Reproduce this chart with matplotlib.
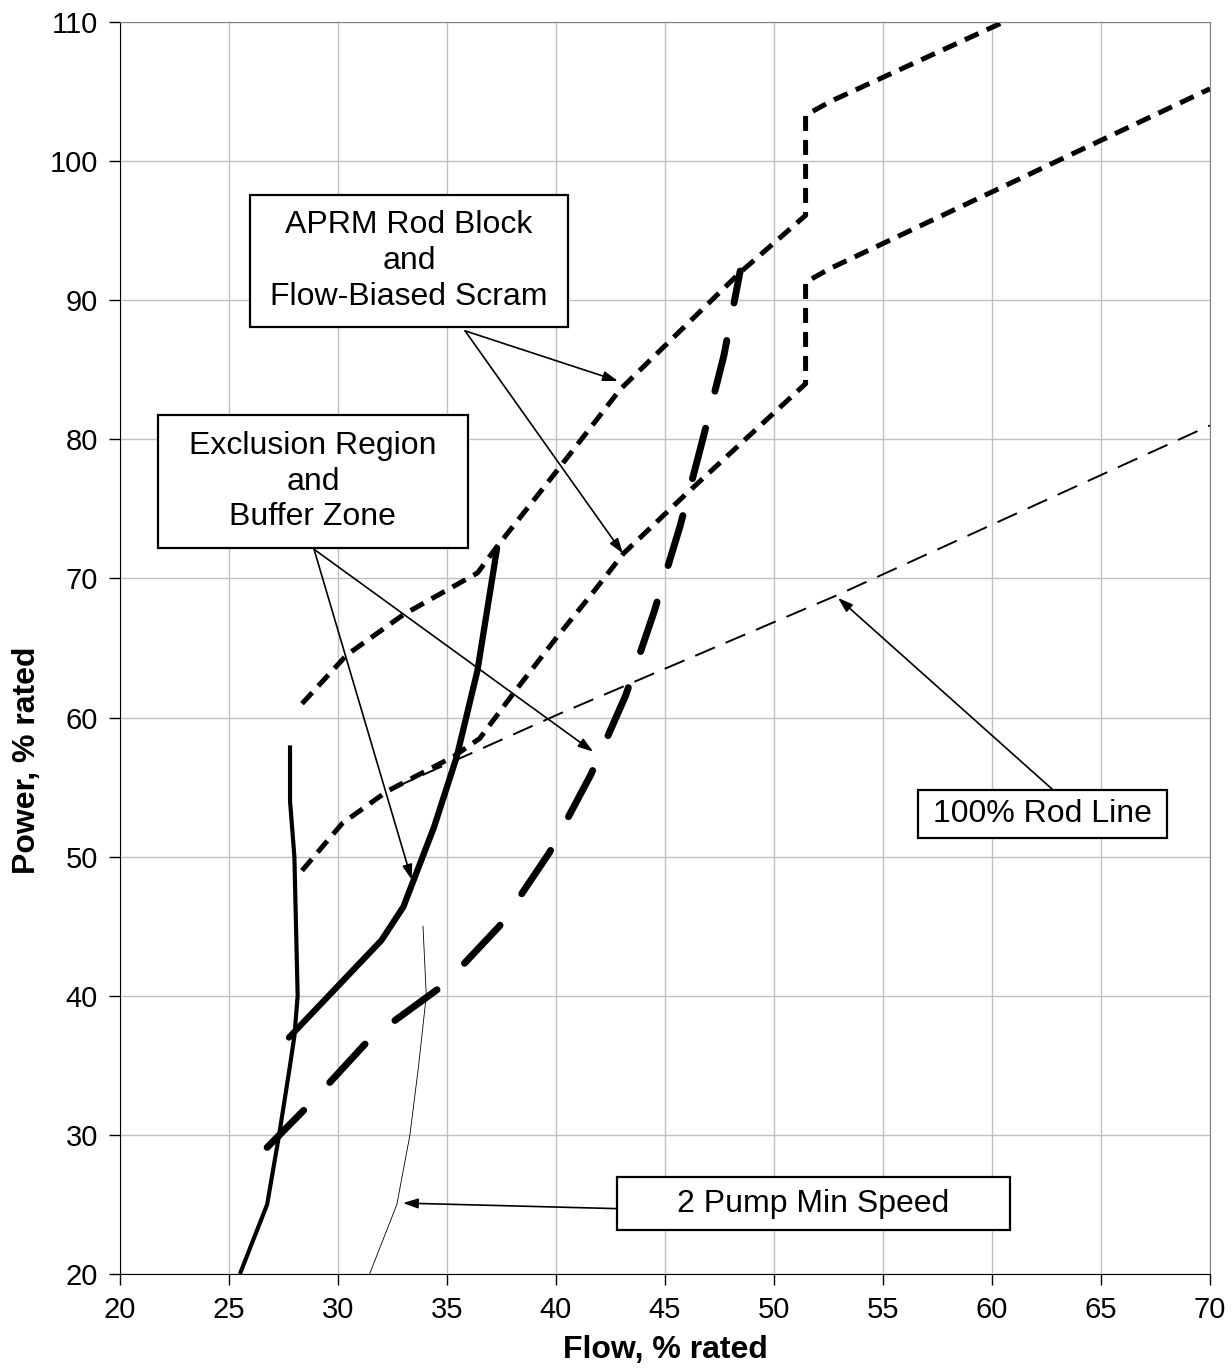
import matplotlib
matplotlib.use("Agg")
import matplotlib.pyplot as plt
from matplotlib.patches import Rectangle

plt.rcParams['font.family'] = ['Liberation Sans', 'DejaVu Sans']

# Exclusion region boundary (left, nearly vertical part)
excl_left_x = [25.5, 26.75, 27.3, 27.8, 28.0, 28.15, 28.0, 27.8, 27.8]
excl_left_y = [20, 25, 30, 35, 37.1, 40, 50, 54, 58]

# Exclusion region boundary (upper part)
excl_x = [27.75, 32.0, 33.0, 34.4, 35.45, 36.4, 37.3]
excl_y = [37.0, 44.0, 46.4, 52.1, 57.2, 63.4, 72.2]

# Buffer zone boundary
buffer_x = [26.75, 28.7, 31.4, 32.5, 34.6, 35.6, 37.4, 38.2, 39.7, 41.6, 43.2, 44.5, 45.7, 46.7, 47.7, 48.45]
buffer_y = [29.1, 32.2, 36.8, 38.1, 40.5, 42.0, 45.0, 46.8, 50.3, 55.9, 61.6, 67.6, 73.8, 79.8, 86.0, 92.1]

# 2 pump minimum speed
pump_x = [31.45, 32.7, 33.3, 33.7, 34.05, 33.9]
pump_y = [20, 25, 30, 35, 40, 45]

# 100% rod line
rod_x = [32.5, 40.2, 52.9, 70]
rod_y = [54.9, 60.3, 68.8, 81.0]

# APRM rod block (upper)
aprm_hi_x = [28.35, 30.4, 33.0, 36.4, 37.3, 40.2, 42.95, 45.7, 48.45, 51.45, 51.45, 52.6, 70]
aprm_hi_y = [61.0, 64.5, 67.4, 70.4, 72.3, 78.05, 83.6, 87.8, 92.0, 96.1, 103.3, 104.3, 116.8]

# Flow-biased scram (lower)
aprm_lo_x = [28.35, 30.2, 32.25, 35.3, 36.5, 38.05, 40.05, 41.55, 43.1, 45.85, 51.45, 51.45, 52.6, 70]
aprm_lo_y = [49.0, 52.4, 54.7, 57.2, 58.5, 61.75, 65.8, 68.7, 71.8, 75.9, 84.0, 91.3, 92.3, 105.2]

fig = plt.figure(figsize=(12.32, 13.68), dpi=100)
ax = fig.add_axes([0.0974, 0.0687, 0.8847, 0.9152])

ax.plot(excl_left_x, excl_left_y, color='black', lw=3.0, solid_capstyle='butt')
ax.plot(excl_x, excl_y, color='black', lw=4.5, solid_capstyle='round')
ax.plot(buffer_x, buffer_y, color='black', lw=5.0, dashes=(7.5, 5.5), dash_capstyle='round')
ax.plot(pump_x, pump_y, color='black', lw=0.6)
ax.plot(rod_x, rod_y, color='black', lw=1.4, dashes=(11, 6))
ax.plot(aprm_hi_x, aprm_hi_y, color='black', lw=3.6, dashes=(3.0, 1.8))
ax.plot(aprm_lo_x, aprm_lo_y, color='black', lw=3.6, dashes=(3.0, 1.8))

# annotation boxes
def box(x0, x1, y0, y1, text):
    ax.add_patch(Rectangle((x0, y0), x1 - x0, y1 - y0, facecolor='white',
                           edgecolor='black', lw=1.6, zorder=5))
    ax.text((x0 + x1) / 2, (y0 + y1) / 2, text, ha='center', va='center',
            fontsize=23, linespacing=1.25, zorder=6)

def arrow(x0, y0, x1, y1):
    ax.annotate('', xy=(x1, y1), xytext=(x0, y0),
                arrowprops=dict(arrowstyle='-|>,head_length=0.9,head_width=0.3',
                                color='black', lw=1.2, shrinkA=0, shrinkB=0),
                zorder=4)

box(25.96, 40.55, 88.08, 97.57, 'APRM Rod Block\nand\nFlow-Biased Scram')
arrow(35.83, 87.8, 42.84, 84.2)
arrow(35.83, 87.8, 43.07, 71.8)

box(21.74, 35.96, 72.19, 81.75, 'Exclusion Region\nand\nBuffer Zone')
arrow(28.9, 72.1, 33.38, 48.35)
arrow(28.9, 72.1, 41.7, 57.55)

box(56.6, 68.03, 51.34, 54.8, '100% Rod Line')
arrow(62.8, 54.8, 52.94, 68.6)

box(42.8, 60.83, 23.16, 26.97, '2 Pump Min Speed')
arrow(42.8, 24.7, 32.98, 25.1)

ax.set_xlim(20, 70)
ax.set_ylim(20, 110)
ax.set_xticks(range(20, 71, 5))
ax.set_yticks(range(20, 111, 10))
ax.grid(True, color='#c0c0c0', lw=1.0)
ax.set_axisbelow(True)
ax.tick_params(labelsize=21, length=8, width=1, direction='out', pad=8)
ax.spines['top'].set_color('#808080')
ax.spines['right'].set_color('#808080')

ax.set_xlabel('Flow, % rated', fontsize=23, fontweight='bold', labelpad=8)
ax.set_ylabel('Power, % rated', fontsize=23, fontweight='bold')
ax.yaxis.set_label_coords(-0.072, 0.41)

fig.savefig('out.png', dpi=100)
